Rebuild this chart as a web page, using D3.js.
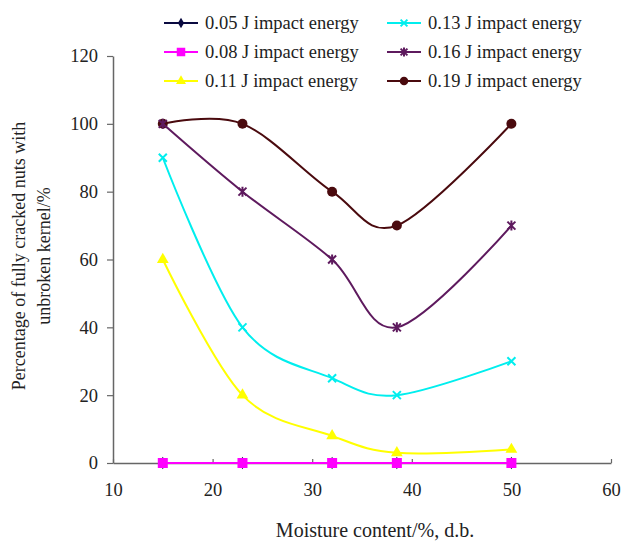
<!DOCTYPE html>
<html><head><meta charset="utf-8">
<script src="https://cdn.jsdelivr.net/npm/d3@7"></script>
<style>body{margin:0;background:#fff}svg{display:block}</style>
</head><body>
<svg id="c" width="626" height="541"></svg>
<script>
const moisture = [15, 23, 32, 38.5, 50];
const seriesNames = ["0.05 J impact energy","0.08 J impact energy","0.11 J impact energy","0.13 J impact energy","0.16 J impact energy","0.19 J impact energy"];
const s005 = [0, 0, 0, 0, 0];
const s008 = [0, 0, 0, 0, 0];
const s011 = [60, 20, 8, 3, 4];
const s013 = [90, 40, 25, 20, 30];
const s016 = [100, 80, 60, 40, 70];
const s019 = [100, 100, 80, 70, 100];
const xTicks = [10, 20, 30, 40, 50, 60];
const yTicks = [0, 20, 40, 60, 80, 100, 120];

const colors = ["#0a0a40", "#ff00ff", "#ffff00", "#00eeee", "#5e1a5e", "#4a0a0e"];
const symbols = ["diamond", "square", "triangle", "x", "star", "circle"];
const data = [s005, s008, s011, s013, s016, s019];

const svg = d3.select("#c");
const x = d3.scaleLinear().domain([10, 60]).range([113, 611]);
const y = d3.scaleLinear().domain([0, 120]).range([463, 56]);
const font = "'Liberation Serif', 'Times New Roman', serif";
const axisColor = "#666";

const xAxis = svg.append("g").attr("transform", "translate(0,463)")
  .call(d3.axisBottom(x).tickValues(xTicks).tickSize(-4).tickPadding(20).tickSizeOuter(0));
const yAxis = svg.append("g").attr("transform", "translate(113,0)")
  .call(d3.axisLeft(y).tickValues(yTicks).tickSize(6).tickPadding(9).tickSizeOuter(0));
[xAxis, yAxis].forEach(g => {
  g.select(".domain").attr("stroke", axisColor).attr("stroke-width", 1.5);
  g.selectAll(".tick line").attr("stroke", axisColor).attr("stroke-width", 1.2);
  g.selectAll(".tick text").attr("fill", "#222").style("font-family", font).style("font-size", "18.5px");
});

svg.append("text").attr("x", 375).attr("y", 537).attr("text-anchor", "middle")
  .style("font-family", font).style("font-size", "20px").attr("fill", "#222")
  .text("Moisture content/%, d.b.");
svg.append("text").attr("transform", "translate(25,256) rotate(-90)").attr("text-anchor", "middle")
  .style("font-family", font).style("font-size", "18px").attr("fill", "#222")
  .text("Percentage of fully cracked nuts with");
svg.append("text").attr("transform", "translate(50,256) rotate(-90)").attr("text-anchor", "middle")
  .style("font-family", font).style("font-size", "18px").attr("fill", "#222")
  .text("unbroken kernel/%");

function marker(g, type, color, cx, cy, s) {
  s = s || 1;
  if (type === "diamond") {
    g.append("path").attr("d", d3.symbol(d3.symbolDiamond, 45 * s * s)()).attr("transform", `translate(${cx},${cy})`).attr("fill", color);
  } else if (type === "square") {
    const h = 5 * s;
    g.append("rect").attr("x", cx - h).attr("y", cy - h).attr("width", 2 * h).attr("height", 2 * h).attr("fill", color);
  } else if (type === "triangle") {
    g.append("path").attr("d", d3.symbol(d3.symbolTriangle, 60 * s * s)()).attr("transform", `translate(${cx},${cy})`).attr("fill", color);
  } else if (type === "x") {
    const h = 4 * s;
    g.append("path").attr("d", `M${cx-h},${cy-h}L${cx+h},${cy+h}M${cx-h},${cy+h}L${cx+h},${cy-h}`).attr("stroke", color).attr("stroke-width", 2);
  } else if (type === "star") {
    const h = 4 * s;
    g.append("path").attr("d", `M${cx-h},${cy-h}L${cx+h},${cy+h}M${cx-h},${cy+h}L${cx+h},${cy-h}M${cx},${cy-h-1}L${cx},${cy+h+1}`).attr("stroke", color).attr("stroke-width", 2);
  } else if (type === "circle") {
    g.append("circle").attr("cx", cx).attr("cy", cy).attr("r", 5 * s).attr("fill", color);
  }
}

const line = d3.line().curve(d3.curveCardinal.tension(0)).x(d => x(d[0])).y(d => y(d[1]));

const drawOrder = [0, 5, 4, 3, 2, 1];
drawOrder.forEach(i => {
  const pts = moisture.map((m, j) => [m, data[i][j]]);
  const g = svg.append("g");
  g.append("path").attr("d", line(pts)).attr("fill", "none").attr("stroke", colors[i]).attr("stroke-width", 2);
  pts.forEach(p => marker(g, symbols[i], colors[i], x(p[0]), y(p[1])));
});

const legRows = [23, 52, 81];
const legCols = [{lx: 164, tx: 205}, {lx: 387, tx: 428}];
seriesNames.forEach((name, i) => {
  const col = legCols[Math.floor(i / 3)], ry = legRows[i % 3];
  const g = svg.append("g");
  g.append("line").attr("x1", col.lx).attr("x2", col.lx + 34).attr("y1", ry).attr("y2", ry)
    .attr("stroke", colors[i]).attr("stroke-width", 2);
  marker(g, symbols[i], colors[i], col.lx + 17, ry, 0.85);
  g.append("text").attr("x", col.tx).attr("y", ry + 6).style("font-family", font).style("font-size", "18.5px")
    .attr("fill", "#222").text(name);
});
</script>
</body></html>
